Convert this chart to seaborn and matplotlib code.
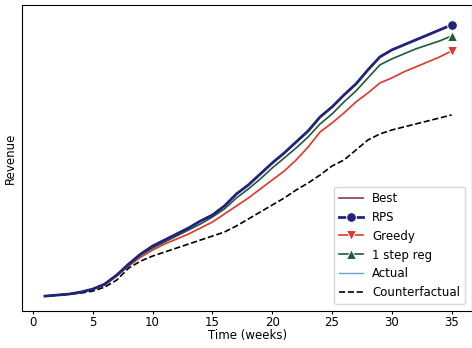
import matplotlib
matplotlib.use("Agg")
import matplotlib.pyplot as plt
import seaborn as sns
import pandas as pd

weeks = list(range(1, 36))
best = [4, 5, 6, 8, 11, 16, 25, 36, 46, 54, 60, 66, 72, 79, 85, 94, 106, 115, 126, 137,
        147, 158, 169, 183, 193, 205, 216, 230, 243, 250, 255, 260, 265, 270, 275]
rps = [4, 5, 6, 8, 11, 16, 25, 36, 46, 54, 60, 66, 72, 79, 85, 94, 106, 115, 126, 137,
       147, 158, 169, 183, 193, 205, 216, 230, 243, 250, 255, 260, 265, 270, 275]
greedy = [4, 5, 6, 8, 11, 15, 24, 34, 43, 50, 56, 61, 66, 72, 78, 86, 94, 102, 111, 120,
          129, 140, 153, 168, 177, 187, 198, 207, 217, 222, 228, 233, 238, 243, 249]
step_reg = [4, 5, 6, 8, 11, 16, 25, 35, 45, 52, 58, 64, 70, 76, 83, 91, 102, 111, 121, 132,
            142, 152, 163, 176, 186, 198, 209, 222, 235, 241, 246, 251, 255, 259, 264]
actual = [4, 5, 6, 8, 11, 16, 25, 36, 46, 54, 60, 66, 72, 79, 85, 94, 106, 115, 126, 137,
          147, 158, 169, 183, 193, 205, 216, 230, 243, 250, 255, 260, 265, 270, 275]
counterfactual = [4, 5, 6, 7, 9, 13, 20, 32, 39, 44, 48, 52, 56, 60, 64, 68, 74, 81, 88, 95,
                  102, 110, 117, 125, 134, 140, 150, 160, 166, 170, 173, 176, 179, 182, 185]

xticks = [0, 5, 10, 15, 20, 25, 30, 35]

plt.rcParams['font.family'] = ['DejaVu Sans']
plt.rcParams['font.size'] = 8.5

fig = plt.figure(figsize=(4.72, 3.48), dpi=100)
ax = fig.add_axes([0.047, 0.106, 0.953, 0.880])

specs = [
    ("Best", best, dict(color="#8a3b5e", lw=1.2, zorder=3)),
    ("RPS", rps, dict(color="#23237a", lw=2.0, marker="o", markersize=7, markevery=[34], zorder=4)),
    ("Greedy", greedy, dict(color="#e0362c", lw=1.2, marker="v", markersize=7, markevery=[34], zorder=3)),
    ("1 step reg", step_reg, dict(color="#1f5a3a", lw=1.2, marker="^", markersize=7, markevery=[34], zorder=3)),
    ("Actual", actual, dict(color="#5aa5e0", lw=1.0, zorder=2)),
    ("Counterfactual", counterfactual, dict(color="black", lw=1.2, ls="--", zorder=3)),
]

for name, vals, kw in specs:
    df = pd.DataFrame({"week": weeks, "rev": vals})
    sns.lineplot(data=df, x="week", y="rev", ax=ax, label=name, **kw)

ax.set_xlim(-0.9, 36.7)
ax.set_ylim(-11, 295)
ax.set_xticks(xticks)
ax.set_yticks([])
ax.tick_params(axis="x", length=2, pad=1.5)
ax.set_xlabel("Time (weeks)", labelpad=0)
ax.set_ylabel("Revenue", labelpad=4)
ax.legend(loc="lower right", frameon=True, borderaxespad=0.6)

fig.savefig("out.png", dpi=100)
